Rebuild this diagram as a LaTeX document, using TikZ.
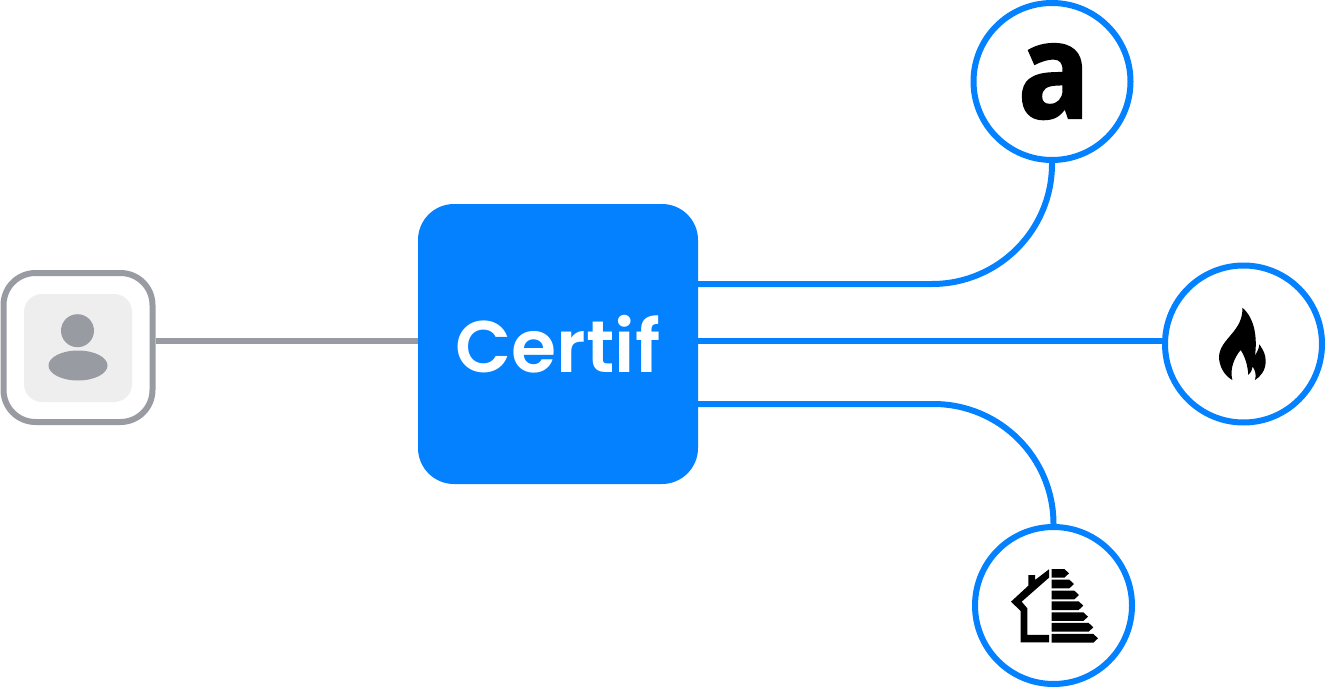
\documentclass[tikz,border=0pt]{standalone}
\usepackage{fontspec}
\setmainfont{Poppins SemiBold}
\newfontfamily\afont{Open Sans Bold}[FakeStretch=0.9,FakeBold=1.5]
\definecolor{cblue}{HTML}{0381FF}
\definecolor{cgray}{HTML}{989CA2}
\definecolor{cpale}{HTML}{EEEEEE}
\tikzset{
  svc/.style={circle,draw=cblue,line width=6pt,fill=white,minimum size=157pt,inner sep=0pt},
  bluelink/.style={draw=cblue,line width=6pt},
  graylink/.style={draw=cgray,line width=6pt},
  zoomed/.style={x=0.3333pt,y=-0.3333pt}
}
\begin{document}
\begin{tikzpicture}[x=1pt,y=-1pt]
\useasboundingbox (0,0) rectangle (1326,688);
\fill[white] (0,0) rectangle (1326,688);
\node[fill=cblue,rounded corners=36pt,minimum width=280pt,minimum height=280pt,inner sep=0pt,outer sep=0pt] (certif) at (558,344) {};
\node[text=white,font=\fontsize{73}{73}\selectfont,inner sep=0pt,anchor=base] (certiflabel) at (558,372) {Certif};
\node[svc] (amz) at (1052,81.5) {};
\node[svc] (fire) at (1243.5,344) {};
\node[svc] (dpe) at (1053.5,605.5) {};
\node[draw=cgray,line width=6pt,fill=white,rounded corners=32pt,minimum width=149pt,minimum height=149pt,inner sep=0pt] (user) at (78,347.5) {};
\coordinate (ua) at (certif.west |- 0,341);
\coordinate (ca) at (certif.east |- 0,284);
\coordinate (cb) at (certif.east |- 0,341);
\coordinate (cc) at (certif.east |- 0,404);
\draw[graylink] (user.east |- ua) -- (ua);
\draw[bluelink] (cb) -- (fire.west |- cb);
\draw[bluelink,rounded corners=120pt] (ca) -| (amz.south);
\draw[bluelink,rounded corners=120pt] (cc) -| (dpe.north);
\node[inner sep=0pt,anchor=base,font=\afont\fontsize{133}{133}\selectfont] (amzlabel) at (1054,118) {a};
\node[fill=cpale,rounded corners=18pt,minimum width=108pt,minimum height=108pt,inner sep=0pt,outer sep=0pt] (useric) at (78,348) {};
\fill[cgray] (77.5,330.7) circle (16.5);
\fill[cgray] (78,365.5) ellipse (29.5 and 15);
% flame
\begin{scope}[shift={(1200,295)},zoomed]
\fill[black] (127,38) .. controls (165,70) and (172,130) .. (165,182)
  .. controls (172,170) and (177,160) .. (178,148)
  .. controls (190,165) and (198,180) .. (197,200)
  .. controls (197,225) and (182,245) .. (165,255)
  .. controls (170,240) and (165,225) .. (158,215)
  .. controls (156,225) and (152,235) .. (145,240)
  .. controls (143,210) and (135,185) .. (122,165)
  .. controls (105,185) and (88,220) .. (97,255)
  .. controls (70,240) and (57,210) .. (57,185)
  .. controls (60,130) and (130,110) .. (127,38) -- cycle;
\end{scope}
% energy house
\begin{scope}[shift={(1000,555)},zoomed]
\fill[black] (85,60) -- (105,60) -- (105,75) -- (147,43) -- (147,68) -- (65,140) -- (82,160) -- (82,240) -- (147,240) -- (147,262) -- (62,262) -- (62,168) -- (33,140) -- (85,92) -- cycle;
\foreach \yy/\xe in {43/207,75/222,108/237,140/250,173/264,205/280,238/294}{
  \fill[black] (155,\yy-1) -- (\xe-14,\yy-1) -- (\xe,\yy+12) -- (\xe-14,\yy+25) -- (155,\yy+25) -- cycle;
}
\end{scope}
\end{tikzpicture}
\end{document}
